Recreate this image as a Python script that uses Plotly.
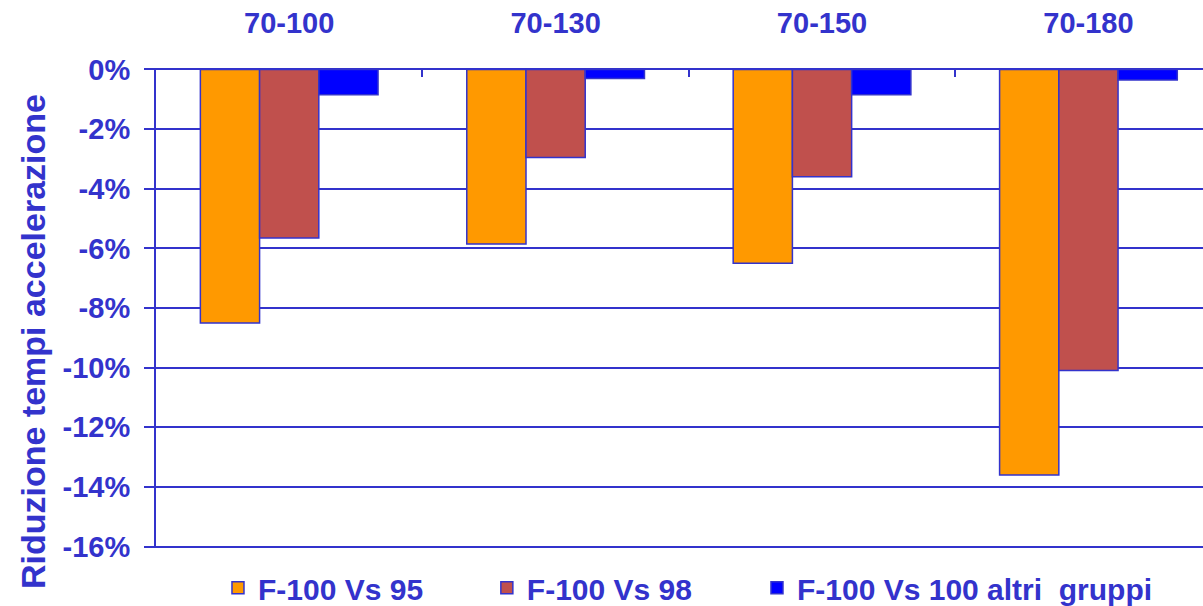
import plotly.graph_objects as go

categories = ["70-100", "70-130", "70-150", "70-180"]
series_names = ["F-100 Vs 95", "F-100 Vs 98", "F-100 Vs 100 altri  gruppi"]
vs95 = [-8.5, -5.85, -6.5, -13.6]
vs98 = [-5.65, -2.95, -3.6, -10.1]
vs100 = [-0.85, -0.3, -0.85, -0.35]
colors = ["#FF9900", "#C0504D", "#0000FF"]
ytick_vals = [0, -2, -4, -6, -8, -10, -12, -14, -16]
ytick_labels = ["0%", "-2%", "-4%", "-6%", "-8%", "-10%", "-12%", "-14%", "-16%"]
y_title = "Riduzione tempi accelerazione"

INK = "#3333CC"
FONT = "Liberation Sans, Arial, sans-serif"

legend_ids = ["legend", "legend2", "legend3"]
legend_x = [0.0592, 0.316, 0.574]

fig = go.Figure()
for name, vals, col, lid in zip(series_names, [vs95, vs98, vs100], colors, legend_ids):
    fig.add_trace(go.Bar(
        x=categories, y=vals, name=name, legend=lid,
        marker=dict(color=col, line=dict(color=INK, width=1.5)),
    ))

fig.add_annotation(
    text=y_title, textangle=-90, xref="paper", yref="paper",
    x=-0.118, y=0.43, xanchor="center", yanchor="middle", showarrow=False,
    font=dict(family=FONT, size=34, color=INK, weight="bold"),
)

legend_common = dict(
    orientation="h", xanchor="left", yref="container", y=0.03, yanchor="middle",
    font=dict(family=FONT, size=30, color=INK, weight="bold"),
    itemclick=False, bgcolor="rgba(0,0,0,0)",
)

fig.update_layout(
    width=1203, height=606,
    margin=dict(l=156, r=0, t=68, b=58, autoexpand=False),
    paper_bgcolor="white", plot_bgcolor="white",
    barmode="group", bargap=0.333, bargroupgap=0,
    font=dict(family=FONT, color=INK),
    showlegend=True,
    legend=dict(x=legend_x[0], **legend_common),
    legend2=dict(x=legend_x[1], **legend_common),
    legend3=dict(x=legend_x[2], **legend_common),
    xaxis=dict(
        side="top", type="category", range=[-0.5, 3.43], automargin=False,
        tickson="boundaries", ticks="inside", ticklen=9, tickwidth=2, tickcolor=INK,
        showline=False, showgrid=False, zeroline=False,
        tickfont=dict(family=FONT, size=29, color=INK, weight="bold"),
        ticklabelstandoff=28,
    ),
    yaxis=dict(
        range=[-16.05, 0.05], tickmode="array", tickvals=ytick_vals, ticktext=ytick_labels,
        automargin=False,
        ticks="outside", ticklen=10, tickwidth=2, tickcolor=INK,
        showline=True, linecolor=INK, linewidth=2,
        showgrid=True, gridcolor=INK, gridwidth=2,
        zeroline=True, zerolinecolor=INK, zerolinewidth=2,
        tickfont=dict(family=FONT, size=29, color=INK, weight="bold"),
        ticklabelstandoff=8,
    ),
)

fig.write_html(
    "out.html",
    config={"displayModeBar": False},
    post_script="document.body.style.margin='0';document.body.style.overflow='hidden';",
)
